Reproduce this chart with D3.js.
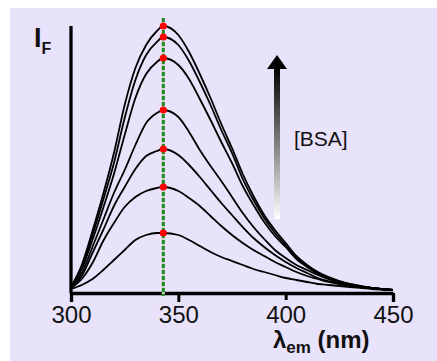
<!DOCTYPE html>
<html>
<head>
<meta charset="utf-8">
<script src="https://cdn.jsdelivr.net/npm/d3@7"></script>
<style>
  body { margin: 0; background: #fff; }
  svg text { font-family: "Liberation Sans", Arial, sans-serif; }
</style>
</head>
<body>
<div id="chart"></div>
<script>
// emission wavelengths (nm)
const wavelengths = [300, 305, 310, 315, 320, 325, 330, 335, 340, 343, 350, 355, 360, 365, 370,
    375, 380, 385, 390, 395, 400, 405, 410, 415, 420, 430, 440, 450];

// fluorescence intensity, highest [BSA] first
const spec1 = [6, 28, 62, 99, 140, 188, 225, 248, 262, 267, 258, 241, 219, 195, 169, 145, 119, 97, 78, 63, 50, 37, 28, 21, 16, 9, 5, 3];
const spec2 = [6, 26, 58, 93, 130, 175, 213, 238, 251, 256, 248, 232, 211, 188, 163, 140, 114, 93, 75, 60, 48, 36, 27, 20, 15, 8, 5, 3];
const spec3 = [6, 24, 53, 85, 119, 158, 195, 219, 231, 235, 228, 214, 194, 173, 151, 130, 107, 88, 71, 57, 46, 34, 26, 19, 14, 8, 5, 3];
const spec4 = [5, 20, 46, 73, 100, 123, 148, 170, 180, 183, 176, 161, 143, 127, 112, 96, 80, 66, 54, 43, 35, 28, 23, 18, 14, 9, 5, 3];
const spec5 = [5, 17, 40, 63, 87, 106, 124, 137, 142, 144, 138, 128, 116, 103, 90, 78, 66, 55, 46, 38, 31, 25, 20, 15, 12, 8, 5, 3];
const spec6 = [5, 14, 30, 52, 70, 86, 96, 102, 105, 106, 102, 95, 87, 77, 67, 58, 50, 43, 37, 31, 26, 21, 17, 14, 11, 7, 5, 3];
const spec7 = [4, 8, 14, 23, 33, 43, 53, 58, 60, 60, 58, 53, 47, 41, 36, 32, 28, 24, 21, 18, 15, 13, 11, 9, 8, 6, 4, 3];
const spectra = [spec1, spec2, spec3, spec4, spec5, spec6, spec7];

const xTicks = [300, 350, 400, 450];
const peakNm = 343;

const width = 437, height = 361;

const svg = d3.select("#chart")
    .append("svg")
    .attr("width", width)
    .attr("height", height);

// panel background
svg.append("rect").attr("width", width).attr("height", height).attr("fill", "#fff");
svg.append("rect")
    .attr("x", 10).attr("y", 8)
    .attr("width", width - 10).attr("height", height - 8)
    .attr("fill", "#e8e2fb");

const xScale = d3.scaleLinear().domain([300, 450]).range([71, 393]);
const yScale = d3.scaleLinear().domain([0, 267]).range([293, 26]);

const line = d3.line()
    .x((d, i) => xScale(wavelengths[i]))
    .y(d => yScale(d))
    .curve(d3.curveMonotoneX);

// spectra
svg.append("g")
    .selectAll("path")
    .data(spectra)
    .join("path")
    .attr("d", line)
    .attr("fill", "none")
    .attr("stroke", "#000")
    .attr("stroke-width", 1.8);

// y axis (no ticks)
svg.append("line")
    .attr("x1", xScale(300)).attr("x2", xScale(300))
    .attr("y1", yScale(267)).attr("y2", 293)
    .attr("stroke", "#000").attr("stroke-width", 3.3);

// x axis
const xAxis = svg.append("g")
    .attr("transform", "translate(0,293)")
    .call(d3.axisBottom(xScale).tickValues(xTicks).tickSize(8).tickSizeOuter(0).tickPadding(5));
xAxis.select(".domain").attr("stroke", "#000").attr("stroke-width", 3.3);
xAxis.selectAll(".tick line")
    .attr("stroke", "#000")
    .attr("stroke-width", d => (d === 350 || d === 400) ? 3 : 3.3)
    .attr("y2", d => d === 400 ? 7 : 9);
xAxis.selectAll(".tick text")
    .attr("fill", "#111")
    .style("font-size", "24px")
    .attr("dy", "0.7em");

// x title
const xt = svg.append("text")
    .attr("x", 273).attr("y", 348)
    .attr("fill", "#111")
    .style("font-weight", "bold")
    .style("font-size", "24px");
xt.append("tspan").text("λ");
xt.append("tspan").attr("dy", 5).style("font-size", "17px").text("em");
xt.append("tspan").attr("dy", -5).text(" (nm)");

// y title
const yt = svg.append("text")
    .attr("x", 34).attr("y", 47)
    .attr("fill", "#111")
    .style("font-weight", "bold")
    .style("font-size", "27px");
yt.append("tspan").text("I");
yt.append("tspan").attr("dy", 7).style("font-size", "16px").text("F");

// peak marker line
const px = xScale(peakNm);
svg.append("line")
    .attr("x1", px).attr("x2", px).attr("y1", 18).attr("y2", 296)
    .attr("stroke", "#c9d2c9").attr("stroke-width", 3);
svg.append("line")
    .attr("x1", px).attr("x2", px).attr("y1", 18).attr("y2", 296)
    .attr("stroke", "#1f8a1f").attr("stroke-width", 3)
    .attr("stroke-dasharray", "4,2");

// peak dots
svg.append("g")
    .selectAll("circle")
    .data(spectra)
    .join("circle")
    .attr("cx", px)
    .attr("cy", d => yScale(d[wavelengths.indexOf(peakNm)]))
    .attr("r", 3.6)
    .attr("fill", "#ff0000");

// [BSA] arrow with gradient
const defs = svg.append("defs");
const grad = defs.append("linearGradient")
    .attr("id", "shaft")
    .attr("x1", 0).attr("y1", 0).attr("x2", 0).attr("y2", 1);
grad.append("stop").attr("offset", "0%").attr("stop-color", "#000");
grad.append("stop").attr("offset", "100%").attr("stop-color", "#fff");

svg.append("rect")
    .attr("x", 274).attr("y", 68)
    .attr("width", 6).attr("height", 151)
    .attr("fill", "url(#shaft)");
svg.append("path")
    .attr("d", "M277,55 L287,69 L267,69 Z")
    .attr("fill", "#000");

svg.append("text")
    .attr("x", 294).attr("y", 146)
    .attr("fill", "#111")
    .style("font-size", "21px")
    .text("[BSA]");
</script>
</body>
</html>
